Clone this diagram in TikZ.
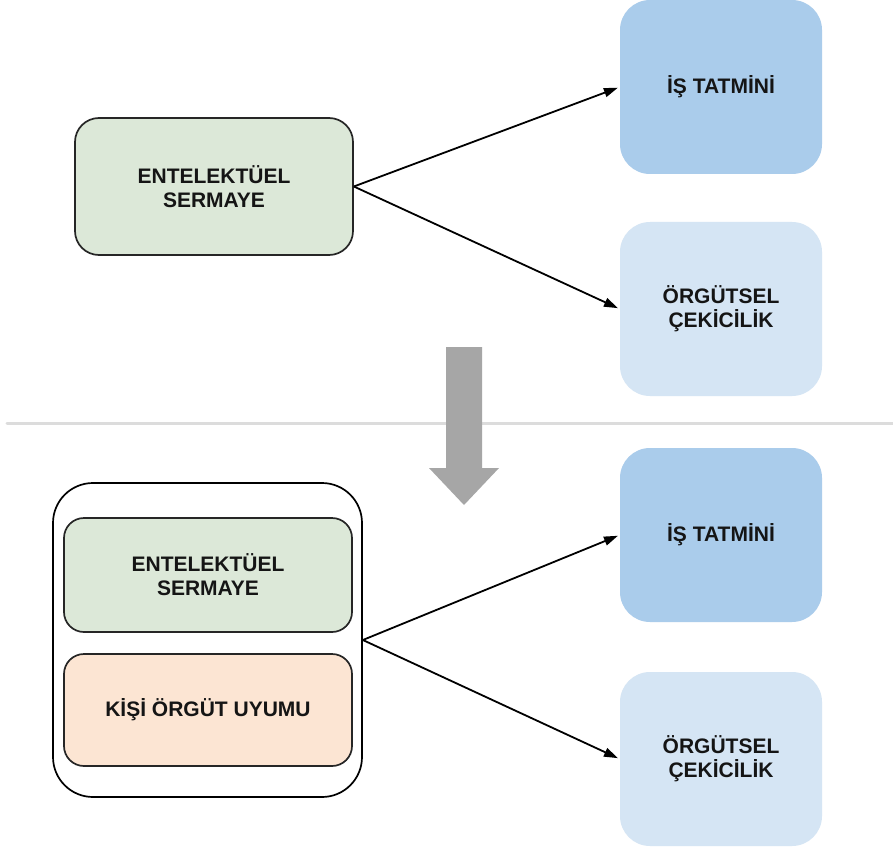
\documentclass[tikz,border=0pt]{standalone}
\usepackage{fontspec}
\setmainfont{Liberation Sans}
\usetikzlibrary{arrows.meta}
\definecolor{boxgreen}{HTML}{DCE8D8}
\definecolor{boxblue}{HTML}{AACCEB}
\definecolor{boxpale}{HTML}{D5E5F4}
\definecolor{boxpeach}{HTML}{FCE5D3}
\definecolor{txt}{HTML}{151515}
\definecolor{flowgray}{HTML}{A6A6A6}
\definecolor{rulegray}{HTML}{DCDCDC}
\tikzset{
  label text/.style={font=\bfseries\fontsize{21}{24}\selectfont, text=txt, align=center},
  greenbox/.style={label text, draw=black!85, line width=1.7pt, fill=boxgreen, rounded corners=24pt, inner sep=0pt},
  peachbox/.style={label text, draw=black!85, line width=1.7pt, fill=boxpeach, rounded corners=20pt, inner sep=0pt},
  targetbox/.style={label text, rounded corners=30pt, minimum width=202pt, minimum height=174pt, inner sep=0pt},
  groupbox/.style={draw=black, line width=1.7pt, fill=white, rounded corners=40pt, inner sep=0pt},
  link/.style={draw=black, line width=1.8pt, -{Triangle[length=14pt,width=9pt]}, shorten >=2pt},
}
\begin{document}
\begin{tikzpicture}[x=1pt,y=-1pt]
\useasboundingbox[fill=white] (0,0) rectangle (893,850);

% separator between the two models
\draw[rulegray, line width=3pt, line cap=round] (7,423) -- (893,423);

% transition arrow
\fill[flowgray] (446,347) -- (482,347) -- (482,468) -- (499,468) -- (464,505) -- (429,468) -- (446,468) -- cycle;

% upper model
\node[greenbox, minimum width=278pt, minimum height=137pt] (es1) at (214,186.5) {ENTELEKTÜEL\\SERMAYE};
\node[targetbox, fill=boxblue] (it1) at (721,87) {İŞ TATMİNİ};
\node[targetbox, fill=boxpale] (oc1) at (721,309) {ÖRGÜTSEL\\ÇEKİCİLİK};
\draw[link] (es1.east) -- (it1.west);
\draw[link] (es1.east) -- (oc1.west);

% lower model
\node[groupbox, minimum width=309pt, minimum height=314pt] (grp) at (207.5,640) {};
\node[greenbox, rounded corners=20pt, minimum width=288pt, minimum height=114pt] (es2) at (208,575) {ENTELEKTÜEL\\SERMAYE};
\node[peachbox, minimum width=288pt, minimum height=112pt] (ko) at (208,710) {KİŞİ ÖRGÜT UYUMU};
\node[targetbox, fill=boxblue] (it2) at (721,535) {İŞ TATMİNİ};
\node[targetbox, fill=boxpale] (oc2) at (721,759) {ÖRGÜTSEL\\ÇEKİCİLİK};
\draw[link] (grp.east) -- (it2.west);
\draw[link] (grp.east) -- (oc2.west);
\end{tikzpicture}
\end{document}
